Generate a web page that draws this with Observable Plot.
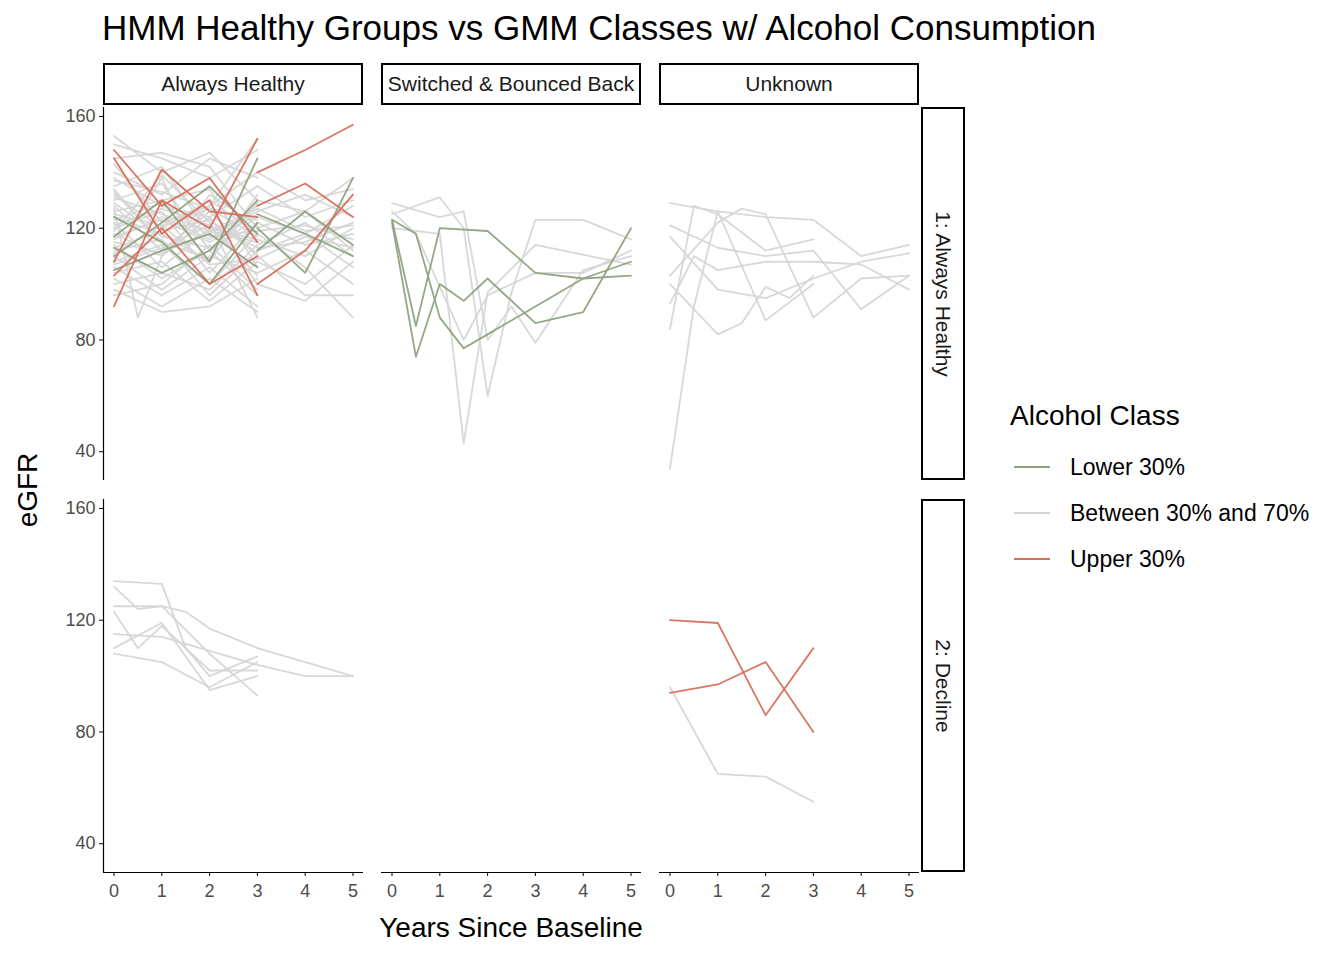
<!DOCTYPE html>
<html><head><meta charset="utf-8">
<script src="https://cdn.jsdelivr.net/npm/d3@7"></script>
<script src="https://cdn.jsdelivr.net/npm/@observablehq/plot@0.6"></script>
<style>
body{margin:0;background:#fff;font-family:"Liberation Sans",Arial,sans-serif}
#c{position:relative;width:1344px;height:960px}
.abs{position:absolute}
.strip{position:absolute;border:2px solid #000;box-sizing:border-box;background:#fff;display:flex;align-items:center;justify-content:center;font-size:21px;color:#1a1a1a;overflow:hidden;white-space:nowrap}
</style></head><body><div id="c"></div>
<script>
const colTitles = ["Always Healthy","Switched & Bounced Back","Unknown"];
const rowTitles = ["1: Always Healthy","2: Decline"];
const classes = ["Lower 30%","Between 30% and 70%","Upper 30%"];
const colors = ["#8ea281","#d6d6d6","#d8705c"];
const yTicks = [40,80,120,160];
const xTicks = [0,1,2,3,4,5];

// lines: [year, egfr] points
const p11Gray = [
[[0,153],[1,140],[2,147],[3,130]],[[0,150],[1,145],[2,138],[3,148]],[[0,145],[1,147],[2,142],[3,120]],
[[0,140],[1,132],[2,145],[3,138]],[[0,138],[1,128],[2,124],[3,135]],[[0,135],[1,142],[2,118],[3,126]],
[[0,132],[1,120],[2,130],[3,118]],[[0,130],[1,136],[2,112],[3,124]],[[0,128],[1,112],[2,126],[3,110]],
[[0,126],[1,130],[2,134],[3,106]],[[0,124],[1,118],[2,108],[3,132]],[[0,122],[1,106],[2,120],[3,116]],
[[0,120],[1,126],[2,104],[3,122]],[[0,118],[1,110],[2,124],[3,100]],[[0,116],[1,124],[2,116],[3,128]],
[[0,114],[1,102],[2,112],[3,96]],[[0,112],[1,116],[2,96],[3,112]],[[0,110],[1,98],[2,110],[3,104]],
[[0,108],[1,114],[2,100],[3,118]],[[0,106],[1,96],[2,106],[3,92]],[[0,104],[1,108],[2,94],[3,108]],
[[0,102],[1,92],[2,102],[3,90]],[[0,100],[1,104],[2,98],[3,114]],[[0,98],[1,90],[2,92],[3,102]],
[[0,96],[1,100],[2,114],[3,98]],[[0,134],[0.5,124],[1,138],[1.5,120],[2,132],[3,121]],
[[0,127],[0.5,88],[1,110],[2,128],[3,140]],[[0,143],[1,122],[2,128],[3,152]],[[0,119],[1,139],[2,122],[3,88]],
[[0,131],[1,125],[2,119],[3,127]],[[0,125],[1,121],[2,127],[3,117]],[[0,121],[1,127],[2,121],[3,113]],
[[0,117],[1,123],[2,115],[3,125]],[[0,113],[1,119],[2,123],[3,111]],[[0,129],[1,117],[2,113],[3,121]],
[[0,123],[1,129],[2,117],[3,119]],[[0,115],[1,111],[2,119],[3,115]],[[0,111],[1,121],[2,107],[3,109]],
[[0,137],[1,133],[2,127],[3,123]],[[0,107],[1,113],[2,121],[3,103]],[[0,133],[1,115],[2,109],[3,129]],
[[3,130],[4,126],[5,138]],[[3,124],[4,118],[5,128]],[[3,120],[4,126],[5,112]],[[3,116],[4,110],[5,120]],
[[3,112],[4,118],[5,106]],[[3,108],[4,100],[5,114]],[[3,104],[4,112],[5,100]],[[3,100],[4,94],[5,108]],
[[3,126],[4,132],[5,124]],[[3,118],[4,106],[5,88]],[[3,135],[4,124],[5,130]],[[3,110],[4,96],[5,96]],
[[3,122],[4,114],[5,118]],[[3,140],[4,130],[5,134]],[[3,114],[4,122],[5,110]],
[[3,119],[4,121],[5,116]],[[3,113],[4,115],[5,122]],[[3,127],[4,119],[5,121]],[[3,109],[4,117],[5,113]]
];
const p11Green = [
[[0,117],[1,130],[2,108],[3,145]],[[0,110],[1,122],[2,135],[3,118]],[[0,124],[1,115],[2,100],[3,122]],
[[0,105],[1,112],[2,118],[3,106]],[[0,113],[1,104],[2,112],[3,130]],
[[3,120],[4,104],[5,138]],[[3,112],[4,126],[5,114]],[[3,125],[4,118],[5,110]]
];
const p11Red = [
[[0,92],[1,130],[2,120],[3,152]],[[0,148],[1,128],[2,138],[3,115]],[[0,145],[1,118],[2,130],[3,96]],
[[0,108],[1,141],[2,126],[3,124]],[[0,103],[1,120],[2,100],[3,110]],
[[3,140],[4,148],[5,157]],[[3,128],[4,136],[5,124]],[[3,100],[4,112],[5,132]]
];
const p12Green = [
[[0,123],[0.5,85],[1,120],[2,119],[3,104],[4,102],[5,103]],
[[0,123],[0.5,118],[1,88],[1.5,77],[2,82],[3,92],[4,102],[5,108]],
[[0,122],[0.5,74],[1,100],[1.5,94],[2,102],[3,86],[4,90],[5,120]]
];
const p12Gray = [
[[0,125],[1,131],[1.5,120],[2,60],[2.5,97],[3,123],[4,123],[5,116]],
[[0,120],[1,118],[1.5,43],[2,97],[3,114],[5,107]],
[[0,126],[0.5,118],[1.5,80],[2,96],[3,104],[4,104],[5,112]],
[[0,129],[1,124],[1.5,126],[2,80],[2.5,92],[3,79],[4,105],[5,110]]
];
const p13Gray = [
[[0,129],[1,126],[2,124],[3,123],[4,110],[5,114]],
[[0,121],[1,113],[2,110],[3,112],[4,91],[5,103]],
[[0,117],[1,98],[2,95],[3,102],[4,108],[5,111]],
[[0,103],[1,122],[1.5,127],[2,125],[3,88],[4,102],[5,103]],
[[0,34],[0.5,92],[1,126],[2,87],[3,100]],
[[0,84],[0.5,128],[1,125],[2,112],[3,116]],
[[0,100],[1,82],[1.5,86],[2,99],[2.5,95],[3,103]],
[[0,93],[0.5,110],[1,105],[2,108],[3,108],[4,107],[5,98]]
];
const p21Gray = [
[[0,134],[1,133],[1.5,110],[2,100],[3,107]],
[[0,132],[0.5,124],[1,125],[1.5,123],[2,117],[3,110],[4,105],[5,100]],
[[0,125],[1,125],[2,108],[3,93]],
[[0,123],[0.5,110],[1,118],[2,102],[3,102]],
[[0,115],[1,114],[2,109],[3,104],[4,100],[5,100]],
[[0,110],[1,119],[2,95],[3,100]],
[[0,108],[1,105],[2,96],[3,105]]
];
const p23Gray = [[[0,96],[1,65],[2,64],[3,55]]];
const p23Red = [[[0,120],[1,119],[2,86],[3,110]],[[0,94],[1,97],[2,105],[3,80]]];

const panels = {
 "0-0":[[p11Gray,1],[p11Green,0],[p11Red,2]],
 "0-1":[[p12Gray,1],[p12Green,0]],
 "0-2":[[p13Gray,1]],
 "1-0":[[p21Gray,1]],
 "1-1":[],
 "1-2":[[p23Gray,1],[p23Red,2]]
};
const c = document.getElementById("c");
const colX=[103,381,659], rowY=[107,499], PW=260, PH=373, ML=60, MB=40;
function add(el){c.appendChild(el);return el;}
for(let r=0;r<2;r++)for(let k=0;k<3;k++){
  const rows=[]; let id=0;
  for(const [set,ci] of panels[r+"-"+k]) for(const ln of set){id++; for(const [x,y] of ln) rows.push({id:ci+"_"+id,cls:classes[ci],x,y});}
  const marks=[
    Plot.line(rows,{x:"x",y:"y",z:"id",stroke:"cls",strokeWidth:1.8,strokeOpacity:0.95})
  ];
  if(k===0){marks.push(Plot.ruleX([-0.22],{stroke:"#000",strokeWidth:1.2}));
    marks.push(Plot.axisY({ticks:yTicks,tickFormat:d3.format("d"),tickSize:4,label:null,fontSize:18,fill:"#4d4d4d",tickPadding:4}));}
  if(r===1){marks.push(Plot.ruleY([29.7],{stroke:"#000",strokeWidth:1.2}));
    marks.push(Plot.axisX({ticks:xTicks,tickFormat:d3.format("d"),tickSize:4,label:null,fontSize:18,fill:"#4d4d4d",tickPadding:8}));}
  const svg=Plot.plot({width:PW+ML,height:PH+MB,marginLeft:ML,marginRight:0,marginTop:0,marginBottom:MB,
    style:{fontFamily:"Liberation Sans, Arial",fontSize:"18px",background:"transparent",overflow:"visible"},
    x:{domain:[-0.22,5.22],axis:null},y:{domain:[29.7,163.2],axis:null},
    color:{domain:classes,range:colors},marks});
  svg.classList.add("abs"); svg.style.left=(colX[k]-ML)+"px"; svg.style.top=rowY[r]+"px";
  add(svg);
}
colTitles.forEach((t,k)=>{const d=add(document.createElement("div"));d.className="strip";
  Object.assign(d.style,{left:colX[k]+"px",top:"63px",width:PW+"px",height:"42px"});d.textContent=t;});
rowTitles.forEach((t,r)=>{const d=add(document.createElement("div"));d.className="strip";
  Object.assign(d.style,{left:"921px",top:rowY[r]+"px",width:"44px",height:PH+"px"});
  const s=document.createElement("span");s.textContent=t;s.style.transform="rotate(90deg)";s.style.display="inline-block";d.appendChild(s);});
function txt(t,css){const d=add(document.createElement("div"));d.className="abs";d.textContent=t;Object.assign(d.style,css);return d;}
txt("HMM Healthy Groups vs GMM Classes w/ Alcohol Consumption",{left:"102px",top:"8px",fontSize:"35px",color:"#000",whiteSpace:"nowrap"});
txt("Years Since Baseline",{left:"511px",top:"912px",fontSize:"28px",transform:"translateX(-50%)",whiteSpace:"nowrap"});
txt("eGFR",{left:"28px",top:"490px",fontSize:"28px",transform:"translate(-50%,-50%) rotate(-90deg)"});
txt("Alcohol Class",{left:"1010px",top:"400px",fontSize:"28px"});
classes.forEach((cl,i)=>{const y=467+i*46;
  const l=add(document.createElement("div"));l.className="abs";Object.assign(l.style,{left:"1014px",top:(y-1)+"px",width:"36px",height:"2px",background:colors[i]});
  txt(cl,{left:"1070px",top:(y-13)+"px",fontSize:"23px",whiteSpace:"nowrap"});});
</script></body></html>
